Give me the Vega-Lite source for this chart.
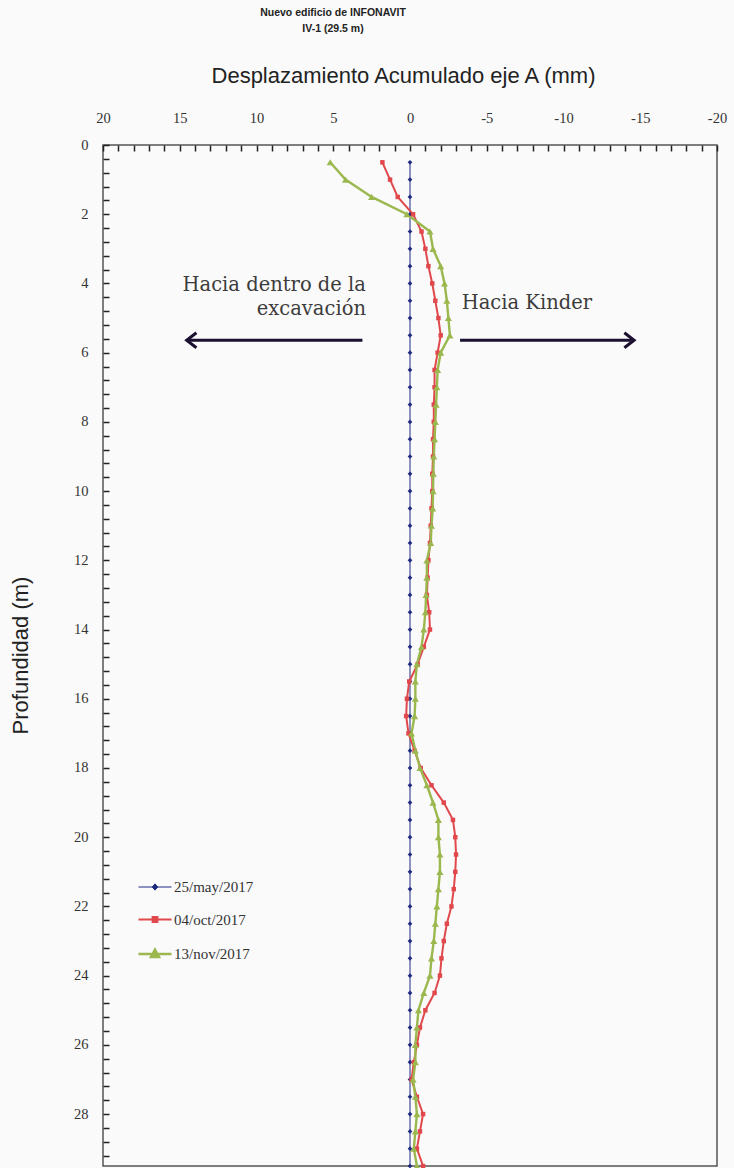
{
  "$schema": "https://vega.github.io/schema/vega-lite/v6.json",
  "width": 614,
  "height": 1021,
  "autosize": {"type": "none"},
  "padding": {"left": 103, "top": 145, "right": 17, "bottom": 2},
  "background": "#fafafa",
  "title": {
    "text": ["Nuevo edificio de INFONAVIT", "IV-1 (29.5 m)"],
    "font": "Liberation Sans",
    "fontSize": 10.5,
    "fontWeight": "bold",
    "color": "#222",
    "anchor": "middle",
    "dx": -77,
    "lineHeight": 16,
    "offset": 30
  },
  "datasets": {
    "series": [
      {"depth": 0.5, "disp": 0, "serie": "25/may/2017"},
      {"depth": 1.0, "disp": 0, "serie": "25/may/2017"},
      {"depth": 1.5, "disp": 0, "serie": "25/may/2017"},
      {"depth": 2.0, "disp": 0, "serie": "25/may/2017"},
      {"depth": 2.5, "disp": 0, "serie": "25/may/2017"},
      {"depth": 3.0, "disp": 0, "serie": "25/may/2017"},
      {"depth": 3.5, "disp": 0, "serie": "25/may/2017"},
      {"depth": 4.0, "disp": 0, "serie": "25/may/2017"},
      {"depth": 4.5, "disp": 0, "serie": "25/may/2017"},
      {"depth": 5.0, "disp": 0, "serie": "25/may/2017"},
      {"depth": 5.5, "disp": 0, "serie": "25/may/2017"},
      {"depth": 6.0, "disp": 0, "serie": "25/may/2017"},
      {"depth": 6.5, "disp": 0, "serie": "25/may/2017"},
      {"depth": 7.0, "disp": 0, "serie": "25/may/2017"},
      {"depth": 7.5, "disp": 0, "serie": "25/may/2017"},
      {"depth": 8.0, "disp": 0, "serie": "25/may/2017"},
      {"depth": 8.5, "disp": 0, "serie": "25/may/2017"},
      {"depth": 9.0, "disp": 0, "serie": "25/may/2017"},
      {"depth": 9.5, "disp": 0, "serie": "25/may/2017"},
      {"depth": 10.0, "disp": 0, "serie": "25/may/2017"},
      {"depth": 10.5, "disp": 0, "serie": "25/may/2017"},
      {"depth": 11.0, "disp": 0, "serie": "25/may/2017"},
      {"depth": 11.5, "disp": 0, "serie": "25/may/2017"},
      {"depth": 12.0, "disp": 0, "serie": "25/may/2017"},
      {"depth": 12.5, "disp": 0, "serie": "25/may/2017"},
      {"depth": 13.0, "disp": 0, "serie": "25/may/2017"},
      {"depth": 13.5, "disp": 0, "serie": "25/may/2017"},
      {"depth": 14.0, "disp": 0, "serie": "25/may/2017"},
      {"depth": 14.5, "disp": 0, "serie": "25/may/2017"},
      {"depth": 15.0, "disp": 0, "serie": "25/may/2017"},
      {"depth": 15.5, "disp": 0, "serie": "25/may/2017"},
      {"depth": 16.0, "disp": 0, "serie": "25/may/2017"},
      {"depth": 16.5, "disp": 0, "serie": "25/may/2017"},
      {"depth": 17.0, "disp": 0, "serie": "25/may/2017"},
      {"depth": 17.5, "disp": 0, "serie": "25/may/2017"},
      {"depth": 18.0, "disp": 0, "serie": "25/may/2017"},
      {"depth": 18.5, "disp": 0, "serie": "25/may/2017"},
      {"depth": 19.0, "disp": 0, "serie": "25/may/2017"},
      {"depth": 19.5, "disp": 0, "serie": "25/may/2017"},
      {"depth": 20.0, "disp": 0, "serie": "25/may/2017"},
      {"depth": 20.5, "disp": 0, "serie": "25/may/2017"},
      {"depth": 21.0, "disp": 0, "serie": "25/may/2017"},
      {"depth": 21.5, "disp": 0, "serie": "25/may/2017"},
      {"depth": 22.0, "disp": 0, "serie": "25/may/2017"},
      {"depth": 22.5, "disp": 0, "serie": "25/may/2017"},
      {"depth": 23.0, "disp": 0, "serie": "25/may/2017"},
      {"depth": 23.5, "disp": 0, "serie": "25/may/2017"},
      {"depth": 24.0, "disp": 0, "serie": "25/may/2017"},
      {"depth": 24.5, "disp": 0, "serie": "25/may/2017"},
      {"depth": 25.0, "disp": 0, "serie": "25/may/2017"},
      {"depth": 25.5, "disp": 0, "serie": "25/may/2017"},
      {"depth": 26.0, "disp": 0, "serie": "25/may/2017"},
      {"depth": 26.5, "disp": 0, "serie": "25/may/2017"},
      {"depth": 27.0, "disp": 0, "serie": "25/may/2017"},
      {"depth": 27.5, "disp": 0, "serie": "25/may/2017"},
      {"depth": 28.0, "disp": 0, "serie": "25/may/2017"},
      {"depth": 28.5, "disp": 0, "serie": "25/may/2017"},
      {"depth": 29.0, "disp": 0, "serie": "25/may/2017"},
      {"depth": 29.5, "disp": 0, "serie": "25/may/2017"},

      {"depth": 0.5, "disp": 1.8, "serie": "04/oct/2017"},
      {"depth": 1.0, "disp": 1.3, "serie": "04/oct/2017"},
      {"depth": 1.5, "disp": 0.8, "serie": "04/oct/2017"},
      {"depth": 2.0, "disp": -0.2, "serie": "04/oct/2017"},
      {"depth": 2.5, "disp": -0.75, "serie": "04/oct/2017"},
      {"depth": 3.0, "disp": -1.0, "serie": "04/oct/2017"},
      {"depth": 3.5, "disp": -1.2, "serie": "04/oct/2017"},
      {"depth": 4.0, "disp": -1.45, "serie": "04/oct/2017"},
      {"depth": 4.5, "disp": -1.65, "serie": "04/oct/2017"},
      {"depth": 5.0, "disp": -1.85, "serie": "04/oct/2017"},
      {"depth": 5.5, "disp": -2.0, "serie": "04/oct/2017"},
      {"depth": 6.0, "disp": -1.8, "serie": "04/oct/2017"},
      {"depth": 6.5, "disp": -1.6, "serie": "04/oct/2017"},
      {"depth": 7.0, "disp": -1.6, "serie": "04/oct/2017"},
      {"depth": 7.5, "disp": -1.55, "serie": "04/oct/2017"},
      {"depth": 8.0, "disp": -1.55, "serie": "04/oct/2017"},
      {"depth": 8.5, "disp": -1.5, "serie": "04/oct/2017"},
      {"depth": 9.0, "disp": -1.5, "serie": "04/oct/2017"},
      {"depth": 9.5, "disp": -1.45, "serie": "04/oct/2017"},
      {"depth": 10.0, "disp": -1.45, "serie": "04/oct/2017"},
      {"depth": 10.5, "disp": -1.4, "serie": "04/oct/2017"},
      {"depth": 11.0, "disp": -1.35, "serie": "04/oct/2017"},
      {"depth": 11.5, "disp": -1.3, "serie": "04/oct/2017"},
      {"depth": 12.0, "disp": -1.2, "serie": "04/oct/2017"},
      {"depth": 12.5, "disp": -1.15, "serie": "04/oct/2017"},
      {"depth": 13.0, "disp": -1.1, "serie": "04/oct/2017"},
      {"depth": 13.5, "disp": -1.25, "serie": "04/oct/2017"},
      {"depth": 14.0, "disp": -1.3, "serie": "04/oct/2017"},
      {"depth": 14.5, "disp": -0.9, "serie": "04/oct/2017"},
      {"depth": 15.0, "disp": -0.5, "serie": "04/oct/2017"},
      {"depth": 15.5, "disp": 0.05, "serie": "04/oct/2017"},
      {"depth": 16.0, "disp": 0.2, "serie": "04/oct/2017"},
      {"depth": 16.5, "disp": 0.25, "serie": "04/oct/2017"},
      {"depth": 17.0, "disp": 0.1, "serie": "04/oct/2017"},
      {"depth": 17.5, "disp": -0.3, "serie": "04/oct/2017"},
      {"depth": 18.0, "disp": -0.7, "serie": "04/oct/2017"},
      {"depth": 18.5, "disp": -1.4, "serie": "04/oct/2017"},
      {"depth": 19.0, "disp": -2.2, "serie": "04/oct/2017"},
      {"depth": 19.5, "disp": -2.8, "serie": "04/oct/2017"},
      {"depth": 20.0, "disp": -2.95, "serie": "04/oct/2017"},
      {"depth": 20.5, "disp": -3.0, "serie": "04/oct/2017"},
      {"depth": 21.0, "disp": -2.95, "serie": "04/oct/2017"},
      {"depth": 21.5, "disp": -2.85, "serie": "04/oct/2017"},
      {"depth": 22.0, "disp": -2.7, "serie": "04/oct/2017"},
      {"depth": 22.5, "disp": -2.4, "serie": "04/oct/2017"},
      {"depth": 23.0, "disp": -2.2, "serie": "04/oct/2017"},
      {"depth": 23.5, "disp": -2.05, "serie": "04/oct/2017"},
      {"depth": 24.0, "disp": -1.95, "serie": "04/oct/2017"},
      {"depth": 24.5, "disp": -1.6, "serie": "04/oct/2017"},
      {"depth": 25.0, "disp": -1.0, "serie": "04/oct/2017"},
      {"depth": 25.5, "disp": -0.65, "serie": "04/oct/2017"},
      {"depth": 26.0, "disp": -0.45, "serie": "04/oct/2017"},
      {"depth": 26.5, "disp": -0.25, "serie": "04/oct/2017"},
      {"depth": 27.0, "disp": -0.1, "serie": "04/oct/2017"},
      {"depth": 27.5, "disp": -0.45, "serie": "04/oct/2017"},
      {"depth": 28.0, "disp": -0.85, "serie": "04/oct/2017"},
      {"depth": 28.5, "disp": -0.65, "serie": "04/oct/2017"},
      {"depth": 29.0, "disp": -0.45, "serie": "04/oct/2017"},
      {"depth": 29.5, "disp": -0.85, "serie": "04/oct/2017"},

      {"depth": 0.5, "disp": 5.2, "serie": "13/nov/2017"},
      {"depth": 1.0, "disp": 4.2, "serie": "13/nov/2017"},
      {"depth": 1.5, "disp": 2.5, "serie": "13/nov/2017"},
      {"depth": 2.0, "disp": 0.2, "serie": "13/nov/2017"},
      {"depth": 2.5, "disp": -1.3, "serie": "13/nov/2017"},
      {"depth": 3.0, "disp": -1.5, "serie": "13/nov/2017"},
      {"depth": 3.5, "disp": -2.0, "serie": "13/nov/2017"},
      {"depth": 4.0, "disp": -2.25, "serie": "13/nov/2017"},
      {"depth": 4.5, "disp": -2.4, "serie": "13/nov/2017"},
      {"depth": 5.0, "disp": -2.5, "serie": "13/nov/2017"},
      {"depth": 5.5, "disp": -2.6, "serie": "13/nov/2017"},
      {"depth": 6.0, "disp": -2.0, "serie": "13/nov/2017"},
      {"depth": 6.5, "disp": -1.8, "serie": "13/nov/2017"},
      {"depth": 7.0, "disp": -1.75, "serie": "13/nov/2017"},
      {"depth": 7.5, "disp": -1.7, "serie": "13/nov/2017"},
      {"depth": 8.0, "disp": -1.65, "serie": "13/nov/2017"},
      {"depth": 8.5, "disp": -1.6, "serie": "13/nov/2017"},
      {"depth": 9.0, "disp": -1.55, "serie": "13/nov/2017"},
      {"depth": 9.5, "disp": -1.52, "serie": "13/nov/2017"},
      {"depth": 10.0, "disp": -1.5, "serie": "13/nov/2017"},
      {"depth": 10.5, "disp": -1.48, "serie": "13/nov/2017"},
      {"depth": 11.0, "disp": -1.4, "serie": "13/nov/2017"},
      {"depth": 11.5, "disp": -1.35, "serie": "13/nov/2017"},
      {"depth": 12.0, "disp": -1.1, "serie": "13/nov/2017"},
      {"depth": 12.5, "disp": -1.1, "serie": "13/nov/2017"},
      {"depth": 13.0, "disp": -1.05, "serie": "13/nov/2017"},
      {"depth": 13.5, "disp": -1.0, "serie": "13/nov/2017"},
      {"depth": 14.0, "disp": -0.9, "serie": "13/nov/2017"},
      {"depth": 14.5, "disp": -0.75, "serie": "13/nov/2017"},
      {"depth": 15.0, "disp": -0.45, "serie": "13/nov/2017"},
      {"depth": 15.5, "disp": -0.35, "serie": "13/nov/2017"},
      {"depth": 16.0, "disp": -0.35, "serie": "13/nov/2017"},
      {"depth": 16.5, "disp": -0.3, "serie": "13/nov/2017"},
      {"depth": 17.0, "disp": -0.1, "serie": "13/nov/2017"},
      {"depth": 17.5, "disp": -0.35, "serie": "13/nov/2017"},
      {"depth": 18.0, "disp": -0.65, "serie": "13/nov/2017"},
      {"depth": 18.5, "disp": -1.1, "serie": "13/nov/2017"},
      {"depth": 19.0, "disp": -1.5, "serie": "13/nov/2017"},
      {"depth": 19.5, "disp": -1.85, "serie": "13/nov/2017"},
      {"depth": 20.0, "disp": -1.85, "serie": "13/nov/2017"},
      {"depth": 20.5, "disp": -1.95, "serie": "13/nov/2017"},
      {"depth": 21.0, "disp": -1.95, "serie": "13/nov/2017"},
      {"depth": 21.5, "disp": -1.85, "serie": "13/nov/2017"},
      {"depth": 22.0, "disp": -1.75, "serie": "13/nov/2017"},
      {"depth": 22.5, "disp": -1.65, "serie": "13/nov/2017"},
      {"depth": 23.0, "disp": -1.55, "serie": "13/nov/2017"},
      {"depth": 23.5, "disp": -1.4, "serie": "13/nov/2017"},
      {"depth": 24.0, "disp": -1.3, "serie": "13/nov/2017"},
      {"depth": 24.5, "disp": -0.9, "serie": "13/nov/2017"},
      {"depth": 25.0, "disp": -0.55, "serie": "13/nov/2017"},
      {"depth": 25.5, "disp": -0.45, "serie": "13/nov/2017"},
      {"depth": 26.0, "disp": -0.35, "serie": "13/nov/2017"},
      {"depth": 26.5, "disp": -0.35, "serie": "13/nov/2017"},
      {"depth": 27.0, "disp": -0.2, "serie": "13/nov/2017"},
      {"depth": 27.5, "disp": -0.35, "serie": "13/nov/2017"},
      {"depth": 28.0, "disp": -0.45, "serie": "13/nov/2017"},
      {"depth": 28.5, "disp": -0.35, "serie": "13/nov/2017"},
      {"depth": 29.0, "disp": -0.25, "serie": "13/nov/2017"},
      {"depth": 29.5, "disp": -0.45, "serie": "13/nov/2017"}
    ],
    "notesRight": [
      {"disp": 2.87, "depth": 4.05, "text": "Hacia dentro de la"},
      {"disp": 2.87, "depth": 4.74, "text": "excavación"}
    ],
    "notesLeft": [
      {"disp": -3.37, "depth": 4.57, "text": "Hacia Kinder"}
    ],
    "arrows": [
      {"disp": 3.1, "disp2": 14.4, "depth": 5.64},
      {"disp": -3.26, "disp2": -14.45, "depth": 5.64}
    ],
    "headLeft": [{"disp": 14.55, "depth": 5.64}],
    "headRight": [{"disp": -14.6, "depth": 5.64}]
  },
  "encoding": {
    "x": {
      "field": "disp", "type": "quantitative",
      "scale": {"domain": [-20, 20], "reverse": true, "nice": false, "zero": false},
      "axis": {
        "orient": "top",
        "offset": -6,
        "domain": false,
        "ticks": true,
        "tickColor": "#222",
        "tickWidth": 1.5,
        "tickOpacity": 1,
        "zindex": 1,
        "title": "Desplazamiento Acumulado eje A (mm)",
        "values": [-20,-19,-18,-17,-16,-15,-14,-13,-12,-11,-10,-9,-8,-7,-6,-5,-4,-3,-2,-1,0,1,2,3,4,5,6,7,8,9,10,11,12,13,14,15,16,17,18,19,20],
        "labelExpr": "datum.value % 5 === 0 ? '' + datum.value : ''",
        "labelOverlap": false,
        "labelFlush": false,
        "tickSize": 6,
        "labelPadding": 20,
        "titleX": 300,
        "titleY": -76,
        "titleBaseline": "middle",
        "titleAlign": "center"
      }
    },
    "y": {
      "field": "depth", "type": "quantitative",
      "scale": {"domain": [0, 29.5], "reverse": true, "nice": false, "zero": false},
      "axis": {
        "offset": -6,
        "domain": false,
        "ticks": true,
        "tickColor": "#222",
        "tickWidth": 1.5,
        "tickOpacity": 1,
        "zindex": 1,
        "title": "Profundidad (m)",
        "values": [0,0.4,0.8,1.2,1.6,2,2.4,2.8,3.2,3.6,4,4.4,4.8,5.2,5.6,6,6.4,6.8,7.2,7.6,8,8.4,8.8,9.2,9.6,10,10.4,10.8,11.2,11.6,12,12.4,12.8,13.2,13.6,14,14.4,14.8,15.2,15.6,16,16.4,16.8,17.2,17.6,18,18.4,18.8,19.2,19.6,20,20.4,20.8,21.2,21.6,22,22.4,22.8,23.2,23.6,24,24.4,24.8,25.2,25.6,26,26.4,26.8,27.2,27.6,28,28.4,28.8,29.2],
        "labelExpr": "datum.value % 2 === 0 ? '' + datum.value : ''",
        "labelOverlap": false,
        "labelFlush": false,
        "tickSize": 6,
        "labelPadding": 15,
        "titleX": -89,
        "titleY": 510,
        "titleBaseline": "middle",
        "titleAlign": "center",
        "titleAngle": -90
      }
    }
  },
  "layer": [
    {
      "data": {"name": "series"},
      "mark": {"type": "line", "clip": true},
      "encoding": {
        "color": {
          "field": "serie", "type": "nominal",
          "scale": {"domain": ["25/may/2017", "04/oct/2017", "13/nov/2017"], "range": ["#1f2a80", "#e0484c", "#9bb84e"]},
          "legend": {
            "orient": "none",
            "legendX": 43,
            "legendY": 734,
            "padding": 0,
            "title": null,
            "labelFont": "Liberation Serif",
            "labelFontSize": 15,
            "labelColor": "#333",
            "labelOffset": 10,
            "symbolSize": 225,
            "rowPadding": 16,
            "encode": {
              "symbols": {
                "update": {
                  "shape": {"signal": "datum.value === '25/may/2017' ? 'M-2.2,0L2.2,0M0,-0.42L0.36,0L0,0.42L-0.36,0Z' : datum.value === '04/oct/2017' ? 'M-2.2,0L2.2,0M-0.32,-0.32L0.32,-0.32L0.32,0.32L-0.32,0.32Z' : 'M-2.2,0L2.2,0M0,-0.6L0.55,0.4L-0.55,0.4Z'"},
                  "fill": {"signal": "datum.value === '25/may/2017' ? '#1f2a80' : datum.value === '04/oct/2017' ? '#e0484c' : '#9bb84e'"},
                  "stroke": {"signal": "datum.value === '25/may/2017' ? '#1f2a80' : datum.value === '04/oct/2017' ? '#e0484c' : '#9bb84e'"},
                  "strokeWidth": {"signal": "datum.value === '25/may/2017' ? 1 : 2"},
                  "opacity": {"value": 1}
                }
              }
            }
          }
        },
        "strokeWidth": {
          "field": "serie", "type": "nominal",
          "scale": {"type": "ordinal", "domain": ["25/may/2017", "04/oct/2017", "13/nov/2017"], "range": [1, 2, 2.4]},
          "legend": null
        },
        "order": {"field": "depth", "type": "quantitative"}
      }
    },
    {
      "data": {"name": "series"},
      "transform": [{"filter": "datum.serie === '25/may/2017'"}],
      "mark": {"type": "point", "filled": true, "opacity": 1, "shape": "diamond", "size": 22, "color": "#1f2a80"},
      "encoding": {}
    },
    {
      "data": {"name": "series"},
      "transform": [{"filter": "datum.serie === '04/oct/2017'"}],
      "mark": {"type": "point", "filled": true, "opacity": 1, "shape": "square", "size": 20, "color": "#e0484c"},
      "encoding": {}
    },
    {
      "data": {"name": "series"},
      "transform": [{"filter": "datum.serie === '13/nov/2017'"}],
      "mark": {"type": "point", "filled": true, "opacity": 1, "shape": "triangle-up", "size": 50, "color": "#9bb84e"},
      "encoding": {}
    },
    {
      "data": {"name": "arrows"},
      "mark": {"type": "rule", "color": "#1b1030", "strokeWidth": 3},
      "encoding": {
        "x2": {"field": "disp2"}
      }
    },
    {
      "data": {"name": "headLeft"},
      "mark": {"type": "point", "filled": false, "shape": "M1.3,-1L0,0L1.3,1", "size": 225, "color": "#1b1030", "strokeWidth": 3, "opacity": 1},
      "encoding": {}
    },
    {
      "data": {"name": "headRight"},
      "mark": {"type": "point", "filled": false, "shape": "M-1.3,-1L0,0L-1.3,1", "size": 225, "color": "#1b1030", "strokeWidth": 3, "opacity": 1},
      "encoding": {}
    },
    {
      "data": {"name": "notesRight"},
      "mark": {"type": "text", "align": "right", "baseline": "middle", "font": "DejaVu Serif", "fontSize": 19.5, "color": "#3c3c3c"},
      "encoding": {
        "text": {"field": "text"}
      }
    },
    {
      "data": {"name": "notesLeft"},
      "mark": {"type": "text", "align": "left", "baseline": "middle", "font": "DejaVu Serif", "fontSize": 19.5, "color": "#3c3c3c"},
      "encoding": {
        "text": {"field": "text"}
      }
    }
  ],
  "config": {
    "view": {"stroke": "#555", "strokeWidth": 1.5},
    "axis": {
      "grid": false,
      "labelFont": "Liberation Serif",
      "labelFontSize": 14.5,
      "labelColor": "#333",
      "titleFont": "Liberation Sans",
      "titleFontSize": 22,
      "titleFontWeight": "normal",
      "titleColor": "#222"
    }
  }
}
